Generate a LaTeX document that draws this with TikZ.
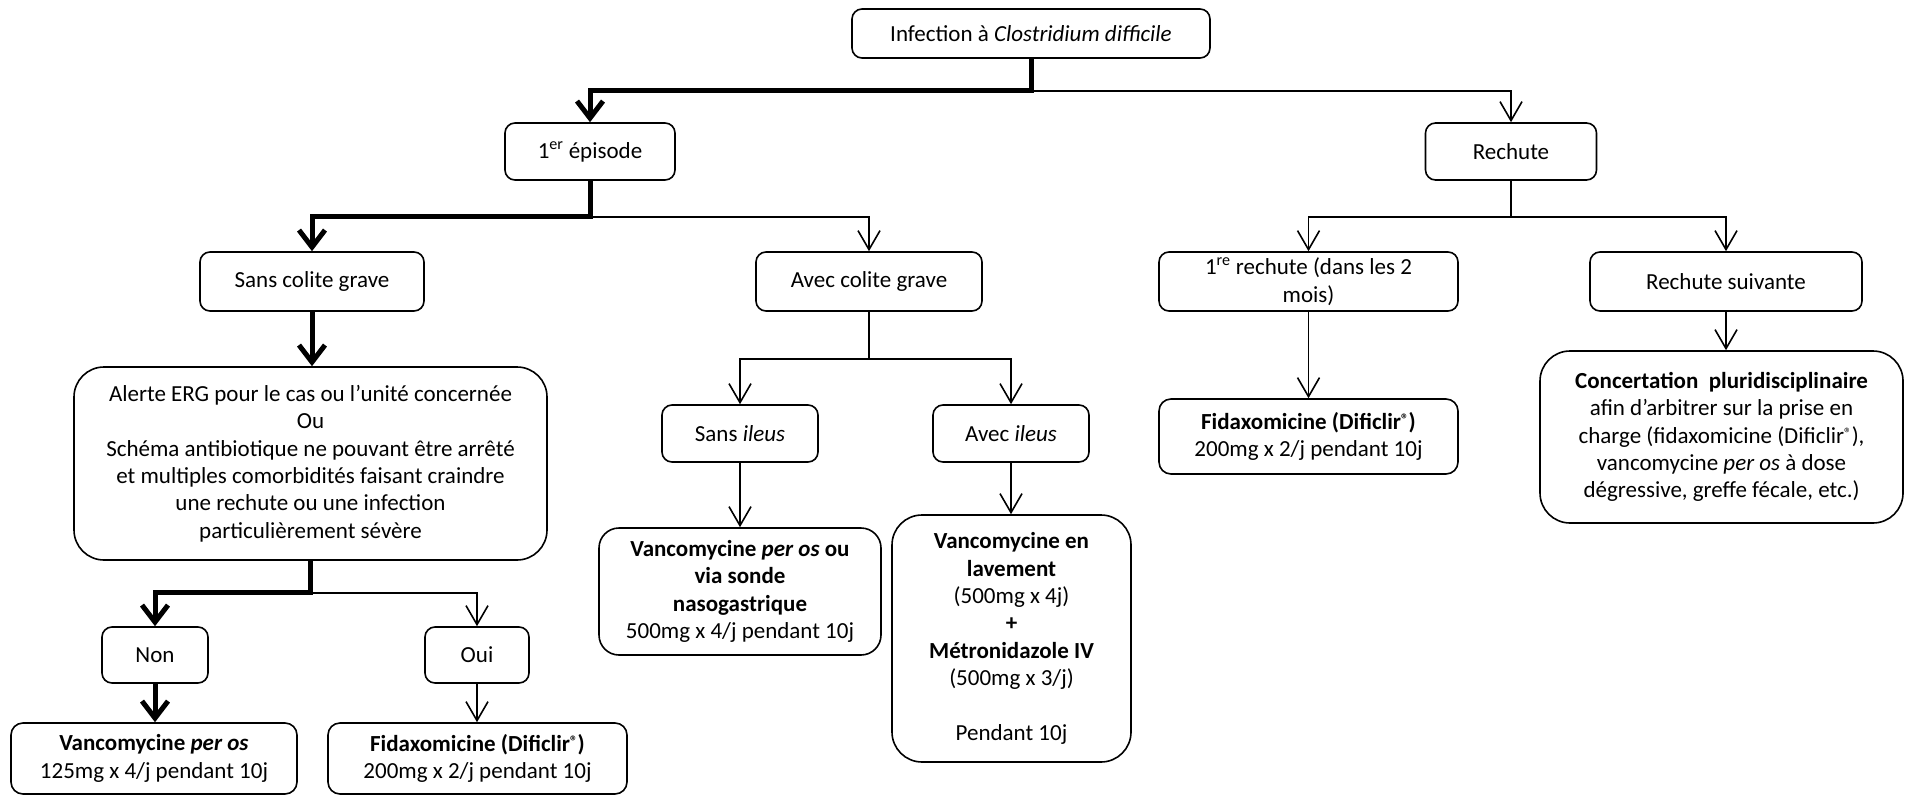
\documentclass[tikz,border=0pt]{standalone}
\usepackage{fontspec}
\setmainfont{Carlito}
\usepackage{tikz}
\usetikzlibrary{arrows.meta,positioning}
\tikzstyle{choice} = [draw,line width=1.6pt,rectangle,rounded corners=10pt,inner sep=0,align=center]
\tikzstyle{bigchoice} = [choice,rounded corners=30pt]
\tikzstyle{branch} = [line width=1.6pt,-{Straight Barb[length=19pt,width=22pt]}]
\tikzstyle{mainbranch} = [line width=5pt,-{Straight Barb[length=17pt,width=26pt]}]
\def \reg {\raisebox{5pt}{\fontsize{15}{15}\selectfont ®}}

\begin{document}
\begin{tikzpicture}[x=1pt,y=-1pt,font=\fontsize{23}{27.4}\selectfont]
  \useasboundingbox (0,0) rectangle (1905,795);
  % top levels
  \node[choice,minimum width=358pt,minimum height=49pt] (infect) at (1031,33.5) {Infection à \textit{Clostridium difficile}};
  \node[choice,minimum width=170pt,minimum height=57pt] (episode) at (590,151.5) {1\textsuperscript{er} épisode};
  \node[choice,minimum width=171pt,minimum height=57pt] (rechute) at (1511,151.5) {Rechute};
  \node[choice,minimum width=224pt,minimum height=59pt] (sanscol) at (312,281.5) {Sans colite grave};
  \node[choice,minimum width=226pt,minimum height=59pt] (aveccol) at (869,281.5) {Avec colite grave};
  \node[choice,minimum width=299pt,minimum height=59pt] (rech1) at (1308.5,281.5) {1\textsuperscript{re} rechute (dans les 2\\mois)};
  \node[choice,minimum width=272pt,minimum height=59pt] (rechsuiv) at (1726,281.5) {Rechute suivante};
  % first episode, no severe colitis
  \node[bigchoice,minimum width=473pt,minimum height=193pt] (alerte) at (310.5,463.5) {Alerte ERG pour le cas ou l’unité concernée\\Ou\\Schéma antibiotique ne pouvant être arrêté\\et multiples comorbidités faisant craindre\\une rechute ou une infection\\particulièrement sévère};
  \node[choice,minimum width=106pt,minimum height=56pt] (non) at (155,655) {Non};
  \node[choice,minimum width=104pt,minimum height=56pt] (oui) at (477,655) {Oui};
  \node[choice,rounded corners=12pt,minimum width=286pt,minimum height=71pt] (vanco1) at (154,758.5) {\textbf{Vancomycine \textit{per os}}\\125mg x 4/j pendant 10j};
  \node[choice,rounded corners=12pt,minimum width=299pt,minimum height=71pt] (fidaxo1) at (477.5,758.5) {\textbf{Fidaxomicine (Dificlir\reg)}\\200mg x 2/j pendant 10j};
  % severe colitis
  \node[choice,minimum width=156pt,minimum height=57pt] (sansil) at (740,433.5) {Sans \textit{ileus}};
  \node[choice,minimum width=156pt,minimum height=57pt] (avecil) at (1011,433.5) {Avec \textit{ileus}};
  \node[choice,rounded corners=20pt,minimum width=282pt,minimum height=127pt] (vanco2) at (740,591.5) {\textbf{Vancomycine \textit{per os} ou}\\\textbf{via sonde}\\\textbf{nasogastrique}\\500mg x 4/j pendant 10j};
  \node[bigchoice,minimum width=239pt,minimum height=247pt] (vanco3) at (1011.5,638.5) {\textbf{Vancomycine en}\\\textbf{lavement}\\(500mg x 4j)\\\textbf{+}\\\textbf{Métronidazole IV}\\(500mg x 3/j)\\[27.4pt]Pendant 10j};
  % relapse
  \node[choice,rounded corners=12pt,minimum width=299pt,minimum height=75pt] (fidaxo2) at (1308.5,436.5) {\textbf{Fidaxomicine (Dificlir\reg)}\\200mg x 2/j pendant 10j};
  \node[bigchoice,minimum width=363pt,minimum height=172pt] (concert) at (1721.5,437) {\textbf{Concertation~ pluridisciplinaire}\\afin d’arbitrer sur la prise en\\charge (fidaxomicine (Dificlir\reg),\\vancomycine \textit{per os} à dose\\dégressive, greffe fécale, etc.)};
  % connectors
  \draw[branch] (infect.south) -- ++(0,32) -| (rechute.north);
  \draw[mainbranch] (infect.south) -- ++(0,32) -| (episode.north);
  \draw[branch] (episode.south) -- ++(0,36) -| (aveccol.north);
  \draw[mainbranch] (episode.south) -- ++(0,36) -| (sanscol.north);
  \draw[branch] (rechute.south) -- ++(0,36) -| (rech1.north);
  \draw[branch] (rechute.south) -- ++(0,36) -| (rechsuiv.north);
  \draw[mainbranch] (sanscol.south) -- (sanscol.south |- alerte.north);
  \draw[branch] (alerte.south) -- ++(0,32) -| (oui.north);
  \draw[mainbranch] (alerte.south) -- ++(0,32) -| (non.north);
  \draw[mainbranch] (non.south) -- (non.south |- vanco1.north);
  \draw[branch] (oui.south) -- (oui.south |- fidaxo1.north);
  \draw[branch] (aveccol.south) -- ++(0,47) -| (sansil.north);
  \draw[branch] (aveccol.south) -- ++(0,47) -| (avecil.north);
  \draw[branch] (sansil.south) -- (sansil.south |- vanco2.north);
  \draw[branch] (avecil.south) -- (avecil.south |- vanco3.north);
  \draw[branch] (rech1.south) -- (rech1.south |- fidaxo2.north);
  \draw[branch] (rechsuiv.south) -- (rechsuiv.south |- concert.north);
\end{tikzpicture}
\end{document}
